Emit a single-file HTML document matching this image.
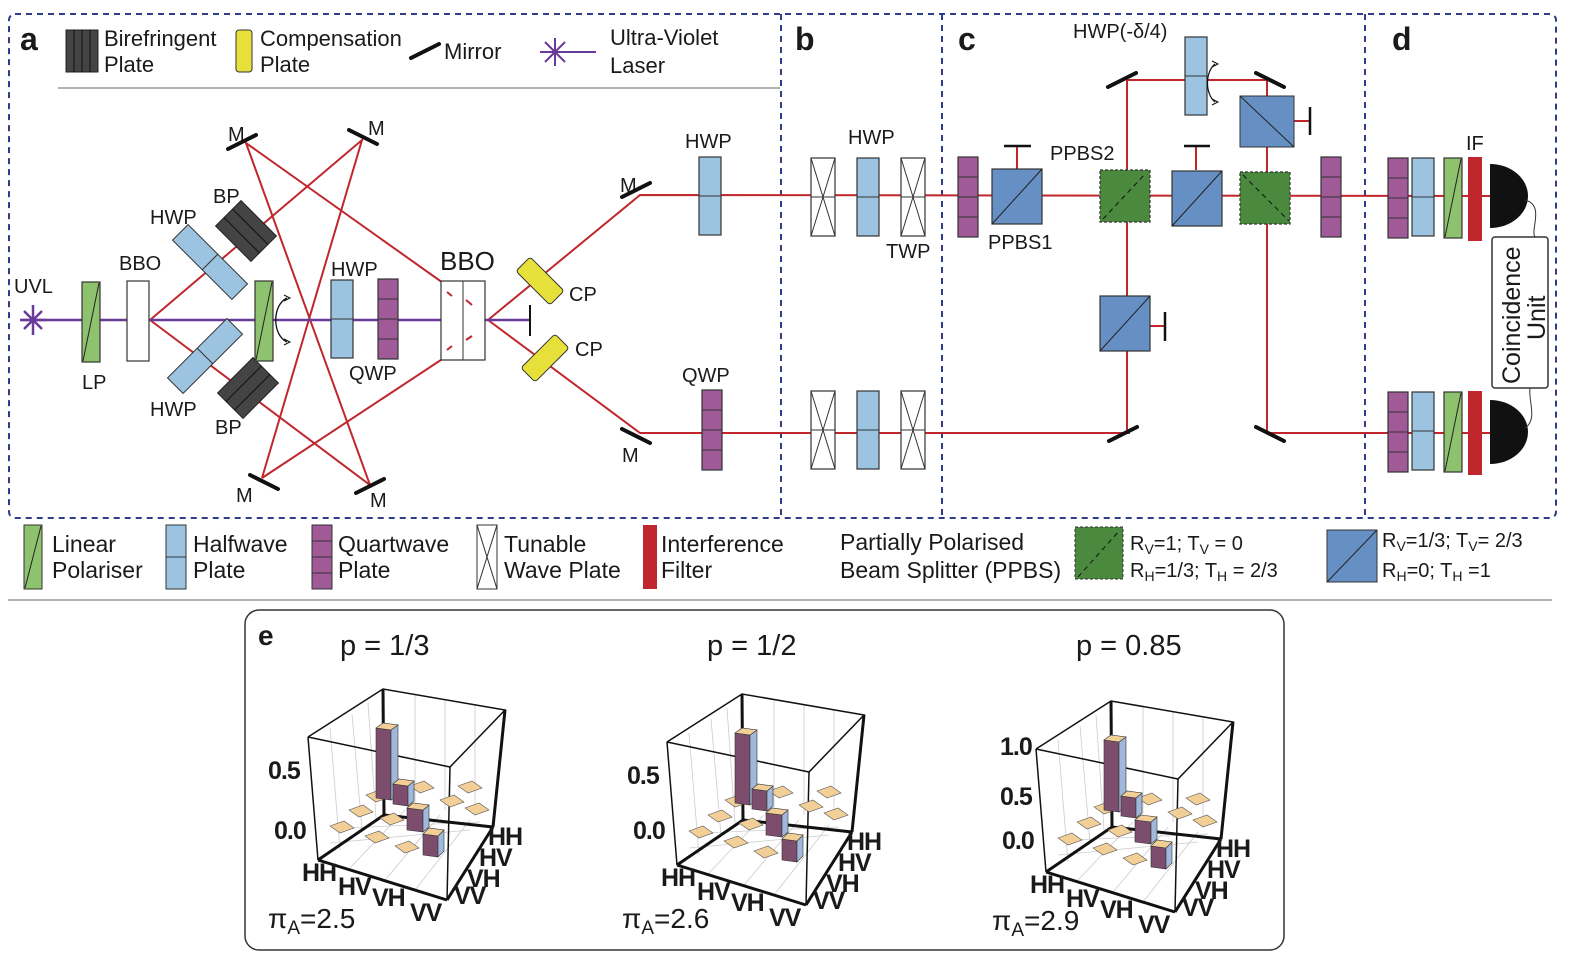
<!DOCTYPE html>
<html><head><meta charset="utf-8"><style>
html,body{margin:0;padding:0;background:#fff}
svg{display:block}
text{font-family:"Liberation Sans",sans-serif;fill:#1a1a1a}
</style></head><body>
<svg width="1578" height="968" viewBox="0 0 1578 968" xmlns="http://www.w3.org/2000/svg">
<defs>
<g id="hwp"><rect x="0" y="0" width="22" height="78" fill="#9cc3e0" stroke="#333" stroke-width="1.2"/><line x1="0" y1="39" x2="22" y2="39" stroke="#333"/></g>
<g id="qwp"><rect x="0" y="0" width="20" height="80" fill="#a05a98" stroke="#333" stroke-width="1.2"/><line x1="0" y1="20" x2="20" y2="20" stroke="#333"/><line x1="0" y1="40" x2="20" y2="40" stroke="#333"/><line x1="0" y1="60" x2="20" y2="60" stroke="#333"/></g>
<g id="lp"><rect x="0" y="0" width="18" height="80" fill="#8fc26e" stroke="#333" stroke-width="1.2"/><line x1="1" y1="79" x2="17" y2="1" stroke="#222"/></g>
<g id="twp"><rect x="0" y="0" width="24" height="78" fill="#fff" stroke="#333" stroke-width="1.2"/><line x1="0" y1="0" x2="24" y2="78" stroke="#333"/><line x1="24" y1="0" x2="0" y2="78" stroke="#333"/><line x1="0" y1="39" x2="24" y2="39" stroke="#333"/></g>
<g id="bs"><rect x="0" y="0" width="50" height="55" fill="#6690c4" stroke="#333" stroke-width="1.2"/><line x1="0" y1="55" x2="50" y2="0" stroke="#222"/></g>
<g id="gbs"><rect x="0" y="0" width="50" height="52" fill="#4b8a3e" stroke="#333" stroke-width="1.2" stroke-dasharray="3,2"/></g>
<g id="mir"><line x1="-14" y1="7" x2="14" y2="-7" stroke="#111" stroke-width="4" stroke-linecap="round"/></g>
<g id="mirb"><line x1="-14" y1="-7" x2="14" y2="7" stroke="#111" stroke-width="4" stroke-linecap="round"/></g>
<g id="tile"><polygon points="0,0 14,-5 24,2 10,7" fill="#f3cf98" stroke="#555" stroke-width="0.6"/></g>
<g id="det"><path d="M0,-32 A38,32 0 0 1 0,32 Z" fill="#111"/></g>
</defs>

<g fill="none" stroke="#2d3d8c" stroke-width="2" stroke-dasharray="6,5">
<rect x="9" y="14" width="1547" height="504" rx="6"/>
<line x1="781" y1="14" x2="781" y2="518"/>
<line x1="942" y1="14" x2="942" y2="518"/>
<line x1="1365" y1="14" x2="1365" y2="518"/>
</g>
<line x1="58" y1="88" x2="780" y2="88" stroke="#999" stroke-width="1.5"/>

<g font-weight="bold" font-size="32">
<text x="20" y="50">a</text><text x="795" y="50">b</text><text x="958" y="50">c</text><text x="1392" y="50">d</text><text x="258" y="645" font-size="28">e</text>
</g>

<rect x="66" y="30" width="32" height="42" fill="#444" stroke="#222"/>
<line x1="74" y1="30" x2="74" y2="72" stroke="#111"/><line x1="82" y1="30" x2="82" y2="72" stroke="#111"/><line x1="90" y1="30" x2="90" y2="72" stroke="#111"/>
<g font-size="22"><text x="104" y="46">Birefringent</text><text x="104" y="72">Plate</text>
<text x="260" y="46">Compensation</text><text x="260" y="72">Plate</text>
<text x="444" y="59">Mirror</text>
<text x="610" y="45">Ultra-Violet</text><text x="610" y="73">Laser</text></g>
<rect x="236" y="30" width="16" height="42" rx="3" fill="#e8e03a" stroke="#333"/>
<use href="#mir" x="425" y="51"/>
<g stroke="#6a3a9a" stroke-width="2"><line x1="540" y1="52" x2="596" y2="52"/><line x1="555" y1="38" x2="555" y2="66"/><line x1="545" y1="42" x2="565" y2="62"/><line x1="565" y1="42" x2="545" y2="62"/></g>

<g stroke="#c0272d" stroke-width="2" fill="none">
<polyline points="150,320 362,140 262,478"/>
<polyline points="150,320 370,485 246,143 453,290"/>
<line x1="262" y1="478" x2="453" y2="352"/>
<polyline points="488,320 640,195 1490,196"/>
<polyline points="488,320 640,433 1130,433"/>
<line x1="1127" y1="80" x2="1127" y2="433"/>
<line x1="1127" y1="80" x2="1267" y2="80"/>
<line x1="1267" y1="80" x2="1267" y2="433"/>
<line x1="1267" y1="433" x2="1490" y2="433"/>
<line x1="1017" y1="146" x2="1017" y2="170"/>
<line x1="1196" y1="146" x2="1196" y2="170"/>
<line x1="1294" y1="121" x2="1310" y2="121"/>
<line x1="1150" y1="326" x2="1165" y2="326"/>
</g>
<line x1="22" y1="320" x2="530" y2="320" stroke="#6a3a9a" stroke-width="2.5"/>
<line x1="530" y1="305" x2="530" y2="336" stroke="#111" stroke-width="2"/>
<g stroke="#6a3a9a" stroke-width="2.5"><line x1="33" y1="305" x2="33" y2="335"/><line x1="20" y1="320" x2="46" y2="320"/><line x1="24" y1="311" x2="42" y2="329"/><line x1="42" y1="311" x2="24" y2="329"/></g>
<text x="14" y="293" font-size="20">UVL</text>

<use href="#lp" x="82" y="282"/>
<text x="82" y="389" font-size="20">LP</text>
<rect x="127" y="281" width="22" height="80" fill="#fff" stroke="#333" stroke-width="1.2"/>
<text x="119" y="270" font-size="20">BBO</text>

<g transform="translate(210,262) rotate(45)"><rect x="-42" y="-11" width="84" height="22" fill="#9cc3e0" stroke="#333"/><line x1="0" y1="-11" x2="0" y2="11" stroke="#333"/></g>
<g transform="translate(205,356) rotate(-45)"><rect x="-42" y="-11" width="84" height="22" fill="#9cc3e0" stroke="#333"/><line x1="0" y1="-11" x2="0" y2="11" stroke="#333"/></g>
<g transform="translate(246,231) rotate(45)"><rect x="-25" y="-18" width="50" height="36" fill="#444" stroke="#222"/><line x1="-25" y1="-6" x2="25" y2="-6" stroke="#111"/><line x1="-25" y1="6" x2="25" y2="6" stroke="#111"/></g>
<g transform="translate(248,388) rotate(-45)"><rect x="-25" y="-18" width="50" height="36" fill="#444" stroke="#222"/><line x1="-25" y1="-6" x2="25" y2="-6" stroke="#111"/><line x1="-25" y1="6" x2="25" y2="6" stroke="#111"/></g>
<g font-size="20"><text x="150" y="224">HWP</text><text x="213" y="203">BP</text><text x="150" y="416">HWP</text><text x="215" y="434">BP</text>
<text x="228" y="141">M</text><text x="368" y="135">M</text><text x="236" y="502">M</text><text x="370" y="507">M</text></g>
<use href="#mir" x="242" y="142"/><use href="#mirb" x="363" y="137"/>
<use href="#mirb" x="264" y="482"/><use href="#mir" x="370" y="486"/>

<use href="#lp" x="255" y="281"/>
<path d="M287,298 C272,305 272,335 287,342" fill="none" stroke="#111" stroke-width="1.3"/>
<path d="M284,295 l6,3 -6,3" fill="none" stroke="#111"/><path d="M284,339 l6,3 -6,3" fill="none" stroke="#111"/>
<use href="#hwp" x="331" y="280"/>
<use href="#qwp" x="378" y="279"/>
<g font-size="20"><text x="331" y="276">HWP</text><text x="349" y="380">QWP</text></g>
<rect x="441" y="281" width="44" height="79" fill="#fff" stroke="#333" stroke-width="1.2"/>
<line x1="463" y1="281" x2="463" y2="360" stroke="#333"/>
<g stroke="#c0272d" stroke-width="2"><line x1="447" y1="292" x2="452" y2="296"/><line x1="466" y1="300" x2="472" y2="305"/><line x1="447" y1="350" x2="452" y2="346"/><line x1="466" y1="340" x2="472" y2="336"/></g>
<text x="440" y="270" font-size="26">BBO</text>
<g transform="translate(540,281) rotate(45)"><rect x="-24" y="-10" width="48" height="20" rx="3" fill="#e8e03a" stroke="#333"/></g>
<g transform="translate(545,358) rotate(-45)"><rect x="-24" y="-10" width="48" height="20" rx="3" fill="#e8e03a" stroke="#333"/></g>
<g font-size="20"><text x="569" y="301">CP</text><text x="575" y="356">CP</text><text x="620" y="192">M</text><text x="622" y="462">M</text></g>
<use href="#mir" x="636" y="190"/>
<use href="#mirb" x="636" y="436"/>

<use href="#hwp" x="699" y="157"/><text x="685" y="148" font-size="20">HWP</text>
<use href="#qwp" x="702" y="390"/><text x="682" y="382" font-size="20">QWP</text>

<use href="#twp" x="811" y="158"/><use href="#hwp" x="857" y="158"/><use href="#twp" x="901" y="158"/>
<use href="#twp" x="811" y="391"/><use href="#hwp" x="857" y="391"/><use href="#twp" x="901" y="391"/>
<g font-size="20"><text x="848" y="144">HWP</text><text x="886" y="258">TWP</text></g>

<use href="#qwp" x="958" y="157"/>
<use href="#bs" x="992" y="169"/>
<line x1="1004" y1="146" x2="1031" y2="146" stroke="#111" stroke-width="2.5"/>
<use href="#gbs" x="1100" y="170"/><line x1="1103" y1="219" x2="1146" y2="173" stroke="#111" stroke-dasharray="5,4"/>
<use href="#bs" x="1172" y="171"/>
<line x1="1184" y1="146" x2="1210" y2="146" stroke="#111" stroke-width="2.5"/>
<use href="#gbs" x="1240" y="172"/><line x1="1243" y1="175" x2="1289" y2="221" stroke="#111" stroke-dasharray="5,4"/>
<use href="#qwp" x="1321" y="157"/>
<g transform="translate(1240,96)"><rect width="54" height="51" fill="#6690c4" stroke="#333"/><line x1="0" y1="0" x2="54" y2="51" stroke="#222"/></g>
<line x1="1310" y1="107" x2="1310" y2="135" stroke="#111" stroke-width="2.5"/>
<use href="#hwp" x="1185" y="37"/>
<path d="M1215,64 C1205,72 1205,94 1215,102" fill="none" stroke="#111" stroke-width="1.2"/>
<path d="M1212,61 l6,3 -6,3 M1212,99 l6,3 -6,3" fill="none" stroke="#111"/>
<use href="#bs" x="1100" y="296"/>
<line x1="1165" y1="312" x2="1165" y2="341" stroke="#111" stroke-width="2.5"/>
<use href="#mir" x="1122" y="80"/>
<use href="#mirb" x="1270" y="80"/>
<use href="#mir" x="1123" y="434"/>
<use href="#mirb" x="1270" y="434"/>
<g font-size="20"><text x="1073" y="38">HWP(-δ/4)</text><text x="1050" y="160">PPBS2</text><text x="988" y="249">PPBS1</text><text x="1466" y="150">IF</text></g>

<use href="#qwp" x="1388" y="158"/><use href="#hwp" x="1412" y="158"/><use href="#lp" x="1444" y="158"/>
<rect x="1468" y="157" width="14" height="84" fill="#c0272d"/>
<use href="#det" x="1490" y="196"/>
<use href="#qwp" x="1388" y="392"/><use href="#hwp" x="1412" y="392"/><use href="#lp" x="1444" y="392"/>
<rect x="1468" y="391" width="14" height="84" fill="#c0272d"/>
<use href="#det" x="1490" y="432"/>
<path d="M1525,200 C1545,205 1530,230 1535,237 M1530,388 C1528,400 1538,420 1525,428" fill="none" stroke="#333"/>
<rect x="1492" y="237" width="56" height="151" rx="3" fill="#fff" stroke="#333" stroke-width="1.5"/>
<text transform="translate(1520,384) rotate(-90)" font-size="25">Coincidence</text>
<text transform="translate(1545,340) rotate(-90)" font-size="25">Unit</text>

<rect x="24" y="525" width="18" height="64" fill="#8fc26e" stroke="#333"/><line x1="25" y1="588" x2="41" y2="526" stroke="#222"/>
<rect x="166" y="525" width="20" height="64" fill="#9cc3e0" stroke="#333"/><line x1="166" y1="557" x2="186" y2="557" stroke="#333"/>
<rect x="312" y="525" width="20" height="64" fill="#a05a98" stroke="#333"/><line x1="312" y1="541" x2="332" y2="541" stroke="#333"/><line x1="312" y1="557" x2="332" y2="557" stroke="#333"/><line x1="312" y1="573" x2="332" y2="573" stroke="#333"/>
<rect x="477" y="525" width="20" height="64" fill="#fff" stroke="#333"/><line x1="477" y1="525" x2="497" y2="589" stroke="#333"/><line x1="497" y1="525" x2="477" y2="589" stroke="#333"/>
<rect x="643" y="525" width="14" height="64" fill="#c0272d"/>
<rect x="1075" y="527" width="48" height="52" fill="#4b8a3e" stroke="#333" stroke-dasharray="3,2"/><line x1="1078" y1="577" x2="1120" y2="530" stroke="#111" stroke-dasharray="5,4"/>
<rect x="1327" y="530" width="50" height="52" fill="#6690c4" stroke="#333"/><line x1="1327" y1="582" x2="1377" y2="530" stroke="#222"/>
<g font-size="23"><text x="52" y="552">Linear</text><text x="52" y="578">Polariser</text>
<text x="193" y="552">Halfwave</text><text x="193" y="578">Plate</text>
<text x="338" y="552">Quartwave</text><text x="338" y="578">Plate</text>
<text x="504" y="552">Tunable</text><text x="504" y="578">Wave Plate</text>
<text x="661" y="552">Interference</text><text x="661" y="578">Filter</text>
<text x="840" y="550">Partially Polarised</text><text x="840" y="578">Beam Splitter (PPBS)</text></g>
<g font-size="20"><text x="1130" y="550">R<tspan font-size="14" dy="4">V</tspan><tspan dy="-4">=1; T</tspan><tspan font-size="14" dy="4">V</tspan><tspan dy="-4"> = 0</tspan></text>
<text x="1130" y="577">R<tspan font-size="14" dy="4">H</tspan><tspan dy="-4">=1/3; T</tspan><tspan font-size="14" dy="4">H</tspan><tspan dy="-4"> = 2/3</tspan></text>
<text x="1382" y="547">R<tspan font-size="14" dy="4">V</tspan><tspan dy="-4">=1/3; T</tspan><tspan font-size="14" dy="4">V</tspan><tspan dy="-4">= 2/3</tspan></text>
<text x="1382" y="577">R<tspan font-size="14" dy="4">H</tspan><tspan dy="-4">=0;  T</tspan><tspan font-size="14" dy="4">H</tspan><tspan dy="-4"> =1</tspan></text></g>

<line x1="8" y1="600" x2="1552" y2="600" stroke="#999" stroke-width="1.5"/>
<rect x="245" y="610" width="1039" height="340" rx="14" fill="none" stroke="#333" stroke-width="1.5"/>

<g id="plot1">
 <g stroke="#ccc" stroke-width="0.8" fill="none">
  <line x1="330" y1="728" x2="340" y2="850"/><line x1="352" y1="714" x2="362" y2="830"/><line x1="368" y1="703" x2="376" y2="818"/>
  <line x1="415" y1="694" x2="415" y2="808"/><line x1="445" y1="699" x2="445" y2="810"/><line x1="475" y1="705" x2="475" y2="815"/>
  <line x1="330" y1="843" x2="470" y2="830"/><line x1="345" y1="828" x2="480" y2="822"/>
  <line x1="350" y1="868" x2="405" y2="810"/><line x1="385" y1="880" x2="440" y2="815"/><line x1="415" y1="890" x2="470" y2="820"/>
 </g>
 <g stroke="#111" fill="none">
  <polyline points="308,737 383,689 505,710 450,767 308,737" stroke-width="1.5"/>
  <line x1="383" y1="689" x2="384" y2="815" stroke-width="3"/>
  <line x1="384" y1="815" x2="493" y2="827" stroke-width="3"/>
  <line x1="384" y1="815" x2="318" y2="860" stroke-width="3"/>
  <line x1="505" y1="710" x2="493" y2="827" stroke-width="3"/>
  <line x1="308" y1="737" x2="318" y2="860" stroke-width="1.5"/>
  <line x1="450" y1="767" x2="447" y2="900" stroke-width="1.5"/>
  <line x1="318" y1="860" x2="447" y2="900" stroke-width="3"/>
  <line x1="447" y1="900" x2="493" y2="827" stroke-width="3"/>
 </g>
 <use href="#tile" x="330" y="826"/><use href="#tile" x="365" y="836"/><use href="#tile" x="395" y="846"/>
 <use href="#tile" x="349" y="810"/><use href="#tile" x="380" y="818"/>
 <use href="#tile" x="366" y="795"/><use href="#tile" x="410" y="786"/>
 <use href="#tile" x="440" y="800"/><use href="#tile" x="465" y="808"/><use href="#tile" x="458" y="786"/>
 <polygon points="376,728 391,730 391,800 376,798" fill="#7d4d6e" stroke="#333" stroke-width="0.6"/>
 <polygon points="391,730 398,725 398,795 391,800" fill="#9fb8db" stroke="#333" stroke-width="0.6"/>
 <polygon points="376,728 383,723 398,725 391,730" fill="#f3cf98" stroke="#333" stroke-width="0.6"/>
 <polygon points="393,784 408,786 408,806 393,804" fill="#7d4d6e" stroke="#333" stroke-width="0.6"/>
 <polygon points="408,786 414,781 414,801 408,806" fill="#9fb8db" stroke="#333" stroke-width="0.6"/>
 <polygon points="393,784 399,779 414,781 408,786" fill="#f3cf98" stroke="#333" stroke-width="0.6"/>
 <polygon points="407,808 423,810 423,832 407,830" fill="#7d4d6e" stroke="#333" stroke-width="0.6"/>
 <polygon points="423,810 429,805 429,827 423,832" fill="#9fb8db" stroke="#333" stroke-width="0.6"/>
 <polygon points="407,808 413,803 429,805 423,810" fill="#f3cf98" stroke="#333" stroke-width="0.6"/>
 <polygon points="423,834 438,836 438,857 423,855" fill="#7d4d6e" stroke="#333" stroke-width="0.6"/>
 <polygon points="438,836 444,830 444,851 438,857" fill="#9fb8db" stroke="#333" stroke-width="0.6"/>
 <polygon points="423,834 429,828 444,830 438,836" fill="#f3cf98" stroke="#333" stroke-width="0.6"/>
</g>
<g id="lab1" font-weight="bold" font-size="25" letter-spacing="-1">
 <text x="302" y="881">HH</text><text x="338" y="895">HV</text><text x="372" y="906">VH</text><text x="410" y="921">VV</text>
 <text x="488" y="845">HH</text><text x="479" y="866">HV</text><text x="467" y="887">VH</text><text x="454" y="904">VV</text>
 <text x="268" y="779">0.5</text><text x="274" y="839">0.0</text>
</g>
<text x="340" y="655" font-size="29">p = 1/3</text>
<text x="268" y="928" font-size="28">π<tspan font-size="19" dy="6">A</tspan><tspan dy="-6">=2.5</tspan></text>

<g transform="translate(359,5)">
 <use href="#plot1"/>
 <g font-weight="bold" font-size="25" letter-spacing="-1">
 <text x="302" y="881">HH</text><text x="338" y="895">HV</text><text x="372" y="906">VH</text><text x="410" y="921">VV</text>
 <text x="488" y="845">HH</text><text x="479" y="866">HV</text><text x="467" y="887">VH</text><text x="454" y="904">VV</text>
 <text x="268" y="779">0.5</text><text x="274" y="834">0.0</text></g>
</g>
<text x="707" y="655" font-size="29">p = 1/2</text>
<text x="622" y="928" font-size="28">π<tspan font-size="19" dy="6">A</tspan><tspan dy="-6">=2.6</tspan></text>

<g transform="translate(728,12)">
 <use href="#plot1"/>
 <g font-weight="bold" font-size="25" letter-spacing="-1">
 <text x="302" y="881">HH</text><text x="338" y="895">HV</text><text x="372" y="906">VH</text><text x="410" y="921">VV</text>
 <text x="488" y="845">HH</text><text x="479" y="866">HV</text><text x="467" y="887">VH</text><text x="454" y="904">VV</text>
 <text x="272" y="743">1.0</text><text x="272" y="793">0.5</text><text x="274" y="837">0.0</text></g>
</g>
<text x="1076" y="655" font-size="29">p = 0.85</text>
<text x="992" y="930" font-size="28">π<tspan font-size="19" dy="6">A</tspan><tspan dy="-6">=2.9</tspan></text>
</svg>
</body></html>
